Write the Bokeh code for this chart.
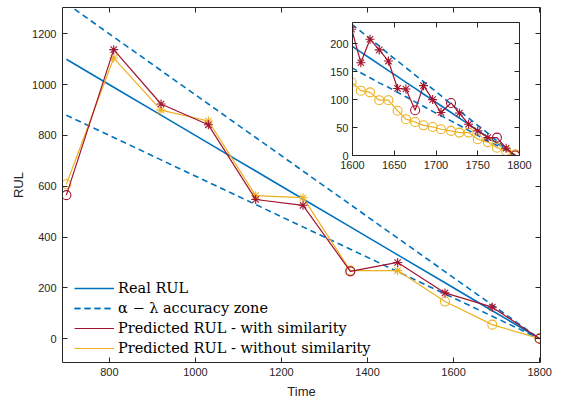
from bokeh.plotting import figure
from bokeh.models import (ColumnDataSource, Legend, LegendItem, LinearAxis,
                          Range1d, FixedTicker, GridBox, CustomLabelingPolicy)
from bokeh.embed import file_html
from bokeh.resources import INLINE

# ---------------- main data ----------------
time = [700, 810, 920, 1030, 1140, 1250, 1360, 1470, 1580, 1690, 1800]
real_rul = [1100, 990, 880, 770, 660, 550, 440, 330, 220, 110, 0]
zone_upper = [1320, 1188, 1056, 924, 792, 660, 528, 396, 264, 132, 0]
zone_lower = [880, 792, 704, 616, 528, 440, 352, 264, 176, 88, 0]
pred_sim = [565, 1138, 924, 842, 548, 525, 265, 300, 180, 124, 0]
pred_nosim = [608, 1105, 900, 857, 563, 555, 268, 268, 146, 55, 0]

# ---------------- inset data ----------------
time_in = [1599, 1610, 1621, 1632, 1643, 1654, 1664, 1675, 1685, 1696,
           1706, 1718, 1728, 1739, 1750, 1762, 1773, 1784, 1795]
real_in = [196, 185, 174, 163, 152, 141, 131, 120, 110, 99,
           89, 77, 67, 56, 45, 33, 22, 11, 0]
upper_in = [235, 222, 209, 196, 182, 169, 157, 144, 132, 119,
            107, 92, 80, 67, 54, 40, 26, 13, 0]
lower_in = [157, 148, 139, 130, 122, 113, 105, 96, 88, 79,
            71, 62, 54, 45, 36, 26, 18, 9, 0]
sim_in = [226, 166, 208, 189, 169, 120, 119, 81, 125, 100,
          77, 94, 76, 56, 44, 32, 32, 13, 0]
nosim_in = [131, 116, 113, 99, 99, 80, 65, 60, 54, 51,
            47, 44, 41, 41, 29, 24, 14, 8, 2]

x_ticks = [800, 1000, 1200, 1400, 1600, 1800]
y_ticks = [0, 200, 400, 600, 800, 1000, 1200]
x_ticks_in = [1600, 1650, 1700, 1750, 1800]
y_ticks_in = [0, 50, 100, 150, 200]

BLUE = "#0072BD"
RED = "#A2142F"
YELLOW = "#EDB120"
AX = "#262626"

W, H = 561, 401
# shared borders (the grid aligns the frames of both figures)
BL, BR, BT, BB = 62, 21, 7, 37


def marker_types(pred, lo, hi, real):
    return ["asterisk" if (r > 0 and l <= v <= h) else "circle"
            for v, l, h, r in zip(pred, lo, hi, real)]


def style_axes(fig, xt, yt, fs):
    for ax in fig.xaxis + fig.yaxis:
        ax.axis_line_color = AX
        ax.major_tick_line_color = AX
        ax.major_tick_in = 5
        ax.major_tick_out = 0
        ax.minor_tick_line_color = None
        ax.major_label_text_font = "Liberation Sans"
        ax.major_label_text_font_size = fs
        ax.major_label_text_color = AX
        ax.axis_label_text_font = "Liberation Sans"
        ax.axis_label_text_font_style = "normal"
        ax.axis_label_text_color = AX
        ax.axis_label_text_font_size = "13px"
    for ax in fig.xaxis:
        ax.ticker = FixedTicker(ticks=xt)
    for ax in fig.yaxis:
        ax.ticker = FixedTicker(ticks=yt)
    fig.xgrid.visible = False
    fig.ygrid.visible = False


def add_box_axes(fig):
    hide = "const all = Array.from(indices); for (const i of all) indices.unset(i); return indices"
    top = LinearAxis(major_label_policy=CustomLabelingPolicy(code=hide))
    right = LinearAxis(major_label_policy=CustomLabelingPolicy(code=hide))
    fig.add_layout(top, "above")
    fig.add_layout(right, "right")
    return [top, right]


def draw(fig, t, real, up, lo, sim, nosim, with_legend):
    src_sim = ColumnDataSource(dict(x=t, y=sim, m=marker_types(sim, lo, up, real)))
    src_nos = ColumnDataSource(dict(x=t, y=nosim, m=marker_types(nosim, lo, up, real)))
    r_real = fig.line(t, real, color=BLUE, line_width=1.6)
    r_up = fig.line(t, up, color=BLUE, line_width=1.6, line_dash="6 4")
    r_lo = fig.line(t, lo, color=BLUE, line_width=1.6, line_dash="6 4")
    r_nos = fig.line("x", "y", source=src_nos, color=YELLOW, line_width=1.2)
    fig.scatter("x", "y", source=src_nos, marker="m", size=9, fill_color=None,
                line_color=YELLOW, line_width=1.1)
    r_sim = fig.line("x", "y", source=src_sim, color=RED, line_width=1.2)
    fig.scatter("x", "y", source=src_sim, marker="m", size=9, fill_color=None,
                line_color=RED, line_width=1.1)
    if with_legend:
        legend = Legend(items=[
            LegendItem(label="Real RUL", renderers=[r_real]),
            LegendItem(label="\u03b1 \u2212 \u03bb accuracy zone", renderers=[r_up, r_lo]),
            LegendItem(label="Predicted RUL - with similarity", renderers=[r_sim]),
            LegendItem(label="Predicted RUL - without similarity", renderers=[r_nos]),
        ])
        legend.location = (12, 4)
        legend.border_line_color = None
        legend.background_fill_alpha = 0
        legend.padding = 0
        legend.margin = 0
        legend.spacing = 0
        legend.glyph_width = 40
        legend.glyph_height = 20
        legend.label_height = 20
        legend.label_standoff = 4
        legend.label_text_font = "DejaVu Serif"
        legend.label_text_font_size = "14.5px"
        legend.label_text_color = "#000000"
        fig.add_layout(legend, "center")


# ---------------- main figure ----------------
p = figure(width=W, height=H, output_backend="svg", toolbar_location=None,
           x_range=Range1d(691, 1802), y_range=Range1d(-94, 1304),
           min_border_left=BL, min_border_right=BR, min_border_top=BT,
           min_border_bottom=BB, x_axis_label="Time", y_axis_label="RUL",
           align="start")
p.outline_line_color = None
p.background_fill_color = "white"
p.border_fill_color = "white"
extra_p = add_box_axes(p)
draw(p, time, real_rul, zone_upper, zone_lower, pred_sim, pred_nosim, True)
style_axes(p, x_ticks, y_ticks, "11px")
p.xaxis[0].major_label_standoff = 7
p.yaxis[0].major_label_standoff = 6
p.xaxis[0].axis_label_standoff = 3
p.yaxis[0].axis_label_standoff = 3
for ax in extra_p:
    ax.major_label_standoff = 0
    ax.major_label_text_font_size = "0px"

# ---------------- inset figure ----------------
FL, FR, FT, FB = 352, 519, 22, 157   # inset frame edges on the page
IL, IT = FL - BL, FT - BT
q = figure(width=BL + (FR - FL) + BR, height=BT + (FB - FT) + BB,
           output_backend="svg", toolbar_location=None,
           x_range=Range1d(1600, 1800), y_range=Range1d(0, 238),
           min_border_left=BL, min_border_right=BR, min_border_top=BT,
           min_border_bottom=BB, margin=(IT, 0, 0, IL), align="start")
q.outline_line_color = None
q.background_fill_color = "white"
q.border_fill_alpha = 0
extra_q = add_box_axes(q)
draw(q, time_in, real_in, upper_in, lower_in, sim_in, nosim_in, False)
style_axes(q, x_ticks_in, y_ticks_in, "11px")
q.xaxis[0].major_label_standoff = 9
q.yaxis[0].major_label_standoff = 4
for ax in extra_q:
    ax.major_label_standoff = 0
    ax.major_label_text_font_size = "0px"

layout = GridBox(children=[(p, 0, 0), (q, 0, 0)])

open("out.html", "w").write(file_html(layout, INLINE))
